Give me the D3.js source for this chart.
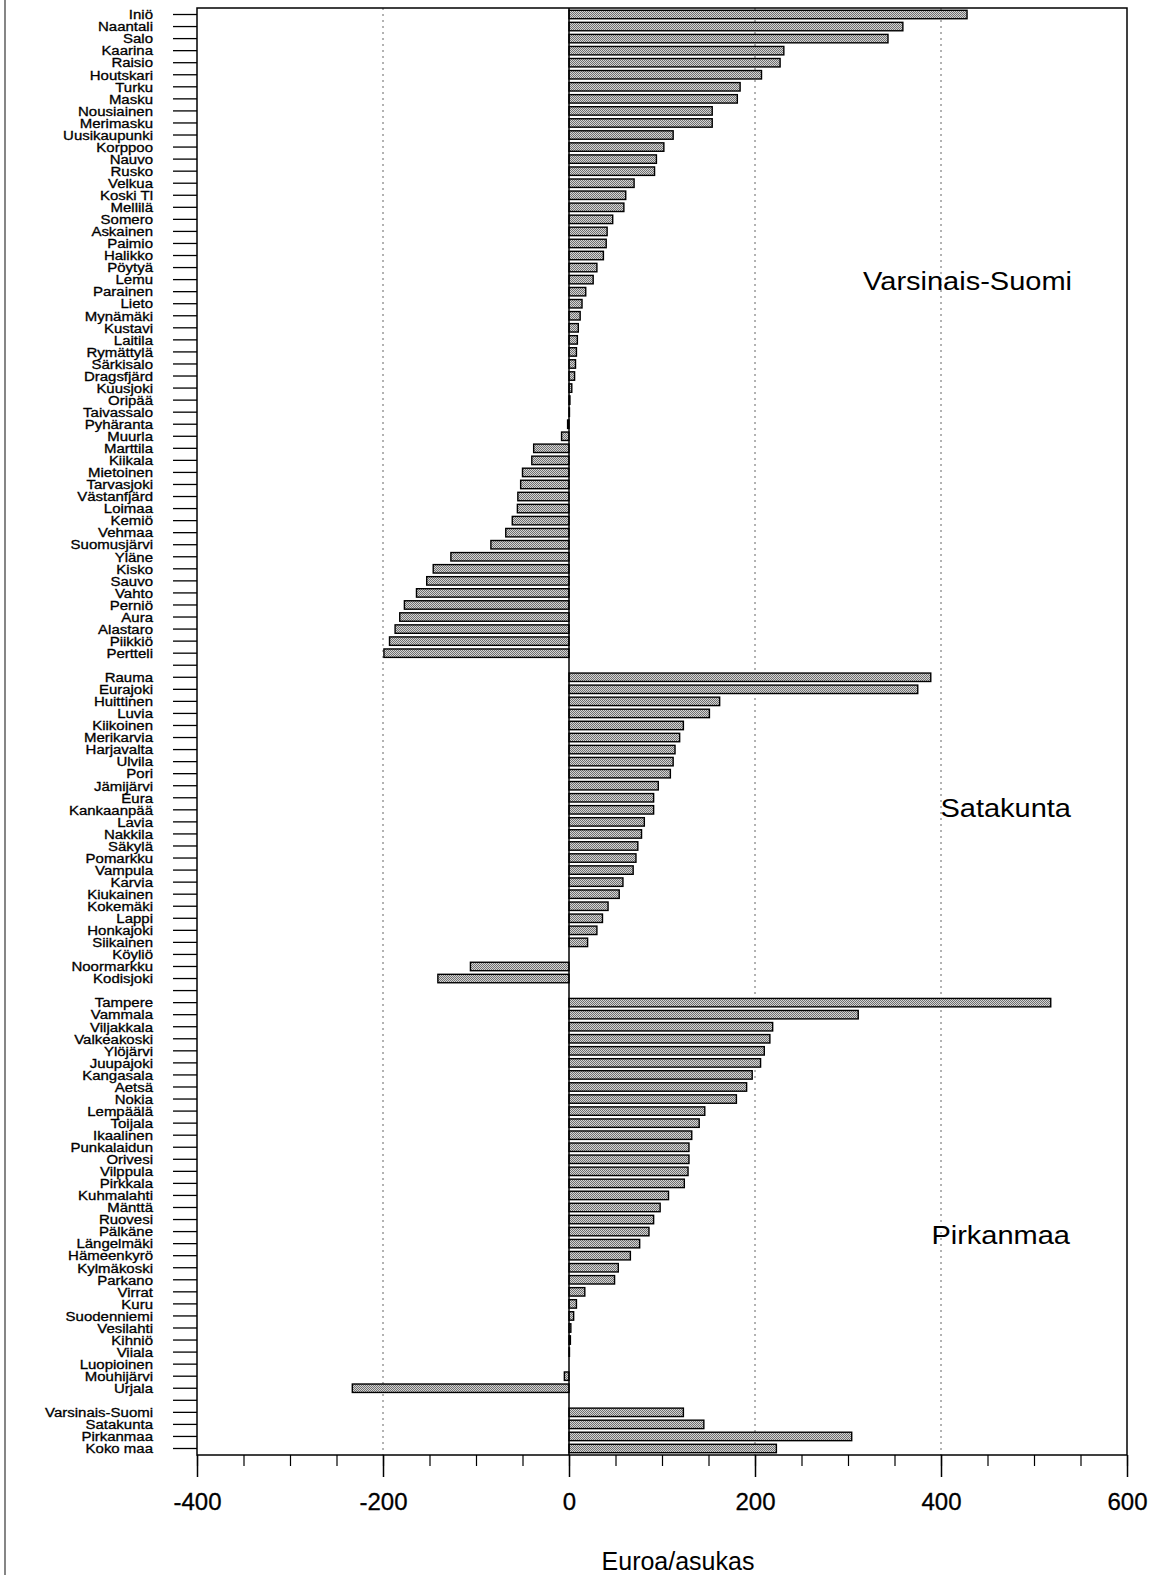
<!DOCTYPE html>
<html>
<head>
<meta charset="utf-8">
<script src="https://cdn.jsdelivr.net/npm/d3@7"></script>
<style>
  body { margin: 0; background: #fff; }
  svg { display: block; font-family: "Liberation Sans", Arial, sans-serif; }
</style>
</head>
<body>
<svg id="chart" width="1155" height="1575"></svg>
<script>
// municipalities per region, in chart order (top to bottom)
var vsNames = ['Iniö', 'Naantali', 'Salo', 'Kaarina', 'Raisio', 'Houtskari', 'Turku', 'Masku', 'Nousiainen',
  'Merimasku', 'Uusikaupunki', 'Korppoo', 'Nauvo', 'Rusko', 'Velkua', 'Koski Tl', 'Mellilä', 'Somero',
  'Askainen', 'Paimio', 'Halikko', 'Pöytyä', 'Lemu', 'Parainen', 'Lieto', 'Mynämäki', 'Kustavi', 'Laitila',
  'Rymättylä', 'Särkisalo', 'Dragsfjärd', 'Kuusjoki', 'Oripää', 'Taivassalo', 'Pyhäranta', 'Muurla',
  'Marttila', 'Kiikala', 'Mietoinen', 'Tarvasjoki', 'Västanfjärd', 'Loimaa', 'Kemiö', 'Vehmaa',
  'Suomusjärvi', 'Yläne', 'Kisko', 'Sauvo', 'Vahto', 'Perniö', 'Aura', 'Alastaro', 'Piikkiö', 'Pertteli']
var vsValues = [428, 359, 343, 231, 227, 207, 184, 181, 154,
  154, 112, 102, 94, 92, 70, 61, 59, 47,
  41, 40, 37, 30, 26, 18, 14, 12, 10, 9,
  8, 7, 6, 3, 1, 0.5, -1.5, -8,
  -38, -40, -50, -52, -55, -55.5, -61, -68,
  -84, -127, -146, -153, -164, -177, -182, -187, -193, -199]

var sataNames = ['Rauma', 'Eurajoki', 'Huittinen', 'Luvia', 'Kiikoinen', 'Merikarvia', 'Harjavalta', 'Ulvila',
  'Pori', 'Jämijärvi', 'Eura', 'Kankaanpää', 'Lavia', 'Nakkila', 'Säkylä', 'Pomarkku', 'Vampula', 'Karvia',
  'Kiukainen', 'Kokemäki', 'Lappi', 'Honkajoki', 'Siikainen', 'Köyliö', 'Noormarkku', 'Kodisjoki']
var sataValues = [389, 375, 162, 151, 123, 119, 114, 112,
  109, 96, 91, 91, 81, 78, 74, 72, 69, 58,
  54, 42, 36, 30, 20, 0, -106, -141]

var pirkNames = ['Tampere', 'Vammala', 'Viljakkala', 'Valkeakoski', 'Ylöjärvi', 'Juupajoki', 'Kangasala', 'Aetsä',
  'Nokia', 'Lempäälä', 'Toijala', 'Ikaalinen', 'Punkalaidun', 'Orivesi', 'Vilppula', 'Pirkkala', 'Kuhmalahti',
  'Mänttä', 'Ruovesi', 'Pälkäne', 'Längelmäki', 'Hämeenkyrö', 'Kylmäkoski', 'Parkano', 'Virrat', 'Kuru',
  'Suodenniemi', 'Vesilahti', 'Kihniö', 'Viiala', 'Luopioinen', 'Mouhijärvi', 'Urjala']
var pirkValues = [518, 311, 219, 216, 210, 206, 197, 191,
  180, 146, 140, 132, 129, 129, 128, 124, 107,
  98, 91, 86, 76, 66, 53, 49, 17, 8,
  5, 2, 1.5, 0.5, 0, -5, -233]

var sumNames = ['Varsinais-Suomi', 'Satakunta', 'Pirkanmaa', 'Koko maa']
var sumValues = [123, 145, 304, 223]

var regionLabels = ['Varsinais-Suomi', 'Satakunta', 'Pirkanmaa']

var xTicks = [-400, -200, 0, 200, 400, 600]
var xMinorTicks = d3.range(-400, 601, 50)
var xGrid = [-200, 200, 400]
var xTitle = 'Euroa/asukas'

// build the row list, with one empty row between the groups
var rows = []
function addGroup(names, values, tag) {
  names.forEach(function(n, i) { rows.push({ key: tag + i, name: n, value: values[i] }) })
}
addGroup(vsNames, vsValues, 'vs')
rows.push({ key: 'gap1', name: '', value: null })
addGroup(sataNames, sataValues, 'sa')
rows.push({ key: 'gap2', name: '', value: null })
addGroup(pirkNames, pirkValues, 'pi')
rows.push({ key: 'gap3', name: '', value: null })
addGroup(sumNames, sumValues, 'su')

var plot = { left: 197, right: 1127, top: 8, bottom: 1455 }

var svg = d3.select('#chart')

var xScale = d3.scaleLinear()
  .domain([-400, 600])
  .range([plot.left, plot.right])

var yScale = d3.scaleBand()
  .domain(rows.map(d => d.key))
  .range([plot.top, plot.bottom])
  .paddingInner(0.3)
  .paddingOuter(0.19)

// stipple fill like the printed original
var defs = svg.append('defs')
var pat = defs.append('pattern')
  .attr('id', 'stipple')
  .attr('width', 2).attr('height', 2)
  .attr('patternUnits', 'userSpaceOnUse')
pat.append('rect').attr('width', 2).attr('height', 2).attr('fill', '#d4d4d4')
pat.append('rect').attr('x', 0).attr('y', 0).attr('width', 1).attr('height', 1).attr('fill', '#707070')
pat.append('rect').attr('x', 1).attr('y', 1).attr('width', 1).attr('height', 1).attr('fill', '#707070')

// page edge line on the left of the scan
svg.append('line')
  .attr('x1', 5).attr('x2', 5)
  .attr('y1', 0).attr('y2', 1575)
  .attr('stroke', '#444').attr('stroke-width', 1.3)

// dotted grid lines
svg.append('g')
  .selectAll('line')
  .data(xGrid)
  .join('line')
  .attr('x1', d => xScale(d)).attr('x2', d => xScale(d))
  .attr('y1', plot.top).attr('y2', plot.bottom)
  .attr('stroke', '#666')
  .attr('stroke-width', 1)
  .attr('stroke-dasharray', '2,4')

// bars
svg.append('g')
  .selectAll('rect')
  .data(rows.filter(d => d.value !== null && d.value !== 0))
  .join('rect')
  .attr('x', d => xScale(Math.min(0, d.value)))
  .attr('y', d => yScale(d.key))
  .attr('width', d => Math.abs(xScale(d.value) - xScale(0)))
  .attr('height', yScale.bandwidth())
  .attr('fill', 'url(#stipple)')
  .attr('stroke', '#000')
  .attr('stroke-width', 1.4)

// zero line
svg.append('line')
  .attr('x1', xScale(0)).attr('x2', xScale(0))
  .attr('y1', plot.top).attr('y2', plot.bottom)
  .attr('stroke', '#000').attr('stroke-width', 1.5)

// plot frame
svg.append('rect')
  .attr('x', plot.left).attr('y', plot.top)
  .attr('width', plot.right - plot.left)
  .attr('height', plot.bottom - plot.top)
  .attr('fill', 'none')
  .attr('stroke', '#000')
  .attr('stroke-width', 1.5)

// Y axis with municipality names
var nameOf = {}
rows.forEach(d => { nameOf[d.key] = d.name })
var yAxis = svg.append('g')
  .attr('transform', 'translate(' + plot.left + ',0)')
  .call(d3.axisLeft(yScale).tickSize(24).tickPadding(20).tickFormat(k => nameOf[k]))
yAxis.select('.domain').remove()
yAxis.selectAll('.tick line').attr('stroke', '#000').attr('stroke-width', 1.3)
yAxis.selectAll('.tick text')
  .attr('font-size', 15)
  .attr('font-family', '"Liberation Sans", Arial, sans-serif')
  .attr('fill', '#000')
  .attr('stroke', '#000')
  .attr('stroke-width', 0.35)
  .attr('dy', null)
  .attr('y', 5.3)
  .attr('transform', 'scale(1,0.9)')

// X axis: minor ticks every 50, long ticks with labels every 200
var xMinor = svg.append('g')
  .attr('transform', 'translate(0,' + plot.bottom + ')')
  .call(d3.axisBottom(xScale).tickValues(xMinorTicks).tickSize(11).tickFormat(''))
xMinor.select('.domain').remove()
xMinor.selectAll('.tick line').attr('stroke', '#000').attr('stroke-width', 1.2)

var xMajor = svg.append('g')
  .attr('transform', 'translate(0,' + plot.bottom + ')')
  .call(d3.axisBottom(xScale).tickValues(xTicks).tickSize(22).tickPadding(16).tickFormat(d => d.toString()))
xMajor.select('.domain').remove()
xMajor.selectAll('.tick line').attr('stroke', '#000').attr('stroke-width', 1.5)
xMajor.selectAll('.tick text')
  .attr('font-size', 24)
  .attr('font-family', '"Liberation Sans", Arial, sans-serif')
  .attr('fill', '#000')
  .attr('stroke', '#000')
  .attr('stroke-width', 0.3)

// axis title
svg.append('text')
  .attr('x', 678)
  .attr('y', 1570)
  .attr('text-anchor', 'middle')
  .attr('font-size', 25)
  .attr('fill', '#000')
  .text(xTitle)

// region names inside the plot
var regionPos = [[1072, 290], [1071, 817], [1070, 1244]]
svg.append('g')
  .selectAll('text')
  .data(regionLabels)
  .join('text')
  .attr('transform', (d, i) => 'translate(' + regionPos[i][0] + ',' + regionPos[i][1] + ') scale(1,0.87)')
  .attr('text-anchor', 'end')
  .attr('font-size', 29)
  .attr('fill', '#000')
  .text(d => d)
</script>
</body>
</html>
